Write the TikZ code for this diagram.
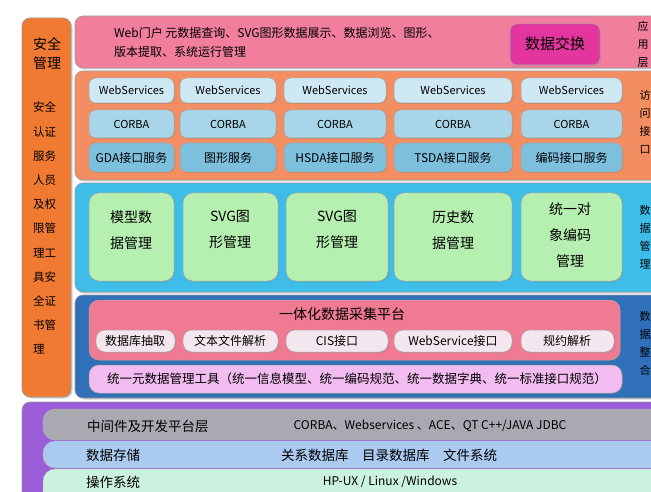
\documentclass[tikz,border=0pt]{standalone}
\usepackage{fontspec}
\setmainfont{Noto Sans CJK SC}
\usetikzlibrary{shadows}
\definecolor{cOr}{HTML}{F07A32}
\definecolor{cPk}{HTML}{F27E9E}
\definecolor{cOl}{HTML}{F28E62}
\definecolor{cCy}{HTML}{3EBDE8}
\definecolor{cDb}{HTML}{3070B8}
\definecolor{cPu}{HTML}{9C5ED8}
\definecolor{cW1}{HTML}{CFE9F4}
\definecolor{cW2}{HTML}{A9D5E8}
\definecolor{cW3}{HTML}{7DC0DE}
\definecolor{cGr}{HTML}{B6F0B0}
\definecolor{cPp}{HTML}{F07A92}
\definecolor{cSm}{HTML}{F4E6EE}
\definecolor{cLv}{HTML}{F2BCF0}
\definecolor{cMg}{HTML}{E2369E}
\definecolor{cGy}{HTML}{A9A9B2}
\definecolor{cBb}{HTML}{ABCAF0}
\definecolor{cMn}{HTML}{CBF2DE}
\tikzset{
 layer/.style={draw=black!40,line width=0.6pt,rounded corners=8pt,drop shadow={opacity=0.35,shadow xshift=1.5pt,shadow yshift=-1.5pt}},
 pill/.style={draw=black!35,line width=0.5pt,rounded corners=7pt,drop shadow={opacity=0.35,shadow xshift=1pt,shadow yshift=-1pt}},
 txt/.style={font=\fontsize{12}{14}\selectfont,inner sep=0pt},
 stxt/.style={font=\fontsize{11}{13}\selectfont,inner sep=0pt},
 btxt/.style={font=\fontsize{14}{26}\selectfont,inner sep=0pt,align=center},
 rtxt/.style={inner sep=0pt,align=center,font=\fontsize{11}{18}\selectfont},
}
\begin{document}
\begin{tikzpicture}[x=1pt,y=-1pt]
\useasboundingbox (0,0) rectangle (651,492);
% left column
\draw[layer,fill=cOr] (22,18) rectangle (71,397);
\node[txt,font=\fontsize{14}{19}\selectfont,align=center] (sm) at (47,54) {安全\\管理};
\node[inner sep=0pt,align=left,font=\fontsize{11.5}{24.2}\selectfont,anchor=north west] (sa) at (33,102) {安全\\认证\\服务\\人员\\及权\\限管\\理工\\具安\\全证\\书管\\理};
% top layer
\draw[layer,fill=cPk] (75,16) rectangle (670,68);
\node[inner sep=0pt,align=left,anchor=west,font=\fontsize{12}{19}\selectfont] (web) at (114,42) {Web门户 元数据查询、SVG图形数据展示、数据浏览、图形、\\版本提取、系统运行管理};
\draw[pill,fill=cMg] (510,24) rectangle (600,65);
\node[txt,font=\fontsize{15}{17}\selectfont] (dx) at (555,44) {数据交换};
\node[rtxt] (yy) at (643,44) {应\\用\\层};
% access layer
\draw[layer,fill=cOl] (75,71) rectangle (670,180);
\foreach \a/\b/\s [count=\i] in {
 89/174/GDA接口服务, 180/276/图形服务, 284/386/HSDA接口服务, 394/512/TSDA接口服务, 521/622/编码接口服务}{
 \draw[pill,fill=cW1] (\a,78) rectangle (\b,103);
 \node[stxt] (ws\i) at ({(\a+\b)/2},90) {WebServices};
 \draw[pill,fill=cW2] (\a,110) rectangle (\b,138);
 \node[stxt] (co\i) at ({(\a+\b)/2},124) {CORBA};
 \draw[pill,fill=cW3] (\a,143) rectangle (\b,172);
 \node[txt] (sv\i) at ({(\a+\b)/2},158) {\s};
}
\node[rtxt] (fw) at (645,122) {访\\问\\接\\口};
% data management
\draw[layer,fill=cCy] (75,183) rectangle (670,292);
\foreach \a/\b in {89/174,183/278,286/388,394/512,521/622}{
 \draw[pill,fill=cGr,rounded corners=10pt] (\a,193) rectangle (\b,281);
}
\node[btxt] (g1) at (131,230) {模型数\\据管理};
\node[btxt] (g2) at (230,230) {SVG图\\形管理};
\node[btxt] (g3) at (337,230) {SVG图\\形管理};
\node[btxt] (g4) at (453,230) {历史数\\据管理};
\node[btxt] (g5) at (570,235) {统一对\\象编码\\管理};
\node[rtxt] (sg) at (645,237) {数\\据\\管\\理};
% integration
\draw[layer,fill=cDb] (75,295) rectangle (670,398);
\draw[pill,fill=cPp,rounded corners=10pt] (89,300) rectangle (620,360);
\node[txt,font=\fontsize{14}{16}\selectfont] (pt) at (342,314) {一体化数据采集平台};
\foreach \a/\b in {96/175,183/278,286/388,394/512,521/614}{
 \draw[pill,fill=cSm,rounded corners=9pt] (\a,330) rectangle (\b,352);
}
\node[txt] (s1) at (135,341) {数据库抽取};
\node[txt] (s2) at (230,341) {文本文件解析};
\node[txt] (s3) at (337,341) {CIS接口};
\node[txt] (s4) at (453,341) {WebService接口};
\node[txt] (s5) at (567,341) {规约解析};
\draw[pill,fill=cLv,rounded corners=10pt] (89,365) rectangle (622,393);
\node[txt,font=\fontsize{12.5}{14}\selectfont] (tool) at (357,379) {统一元数据管理工具（统一信息模型、统一编码规范、统一数据字典、统一标准接口规范）};
\node[rtxt] (zh) at (645,343) {数\\据\\整\\合};
% bottom
\draw[layer,fill=cPu] (22,402) rectangle (680,510);
\draw[fill=cGy,draw=black!30,rounded corners=12pt] (43,409) rectangle (680,440);
\draw[fill=cBb,draw=black!30,rounded corners=12pt] (43,441) rectangle (680,468);
\draw[fill=cMn,draw=black!30,rounded corners=12pt] (43,469) rectangle (680,505);
\node[txt,anchor=west,font=\fontsize{13.5}{15}\selectfont] (m1) at (87,426) {中间件及开发平台层};
\node[txt] (m2) at (430,426) {CORBA、Webservices 、ACE、QT C++/JAVA JDBC};
\node[txt,anchor=west,font=\fontsize{13.5}{15}\selectfont] (d1) at (86,455) {数据存储};
\node[txt,font=\fontsize{13.5}{15}\selectfont] (d2) at (389,455) {关系数据库\quad 目录数据库\quad 文件系统};
\node[txt,anchor=west,font=\fontsize{13.5}{15}\selectfont] (o1) at (86,482) {操作系统};
\node[txt] (o2) at (390,482) {HP-UX / Linux /Windows};
\end{tikzpicture}
\end{document}
